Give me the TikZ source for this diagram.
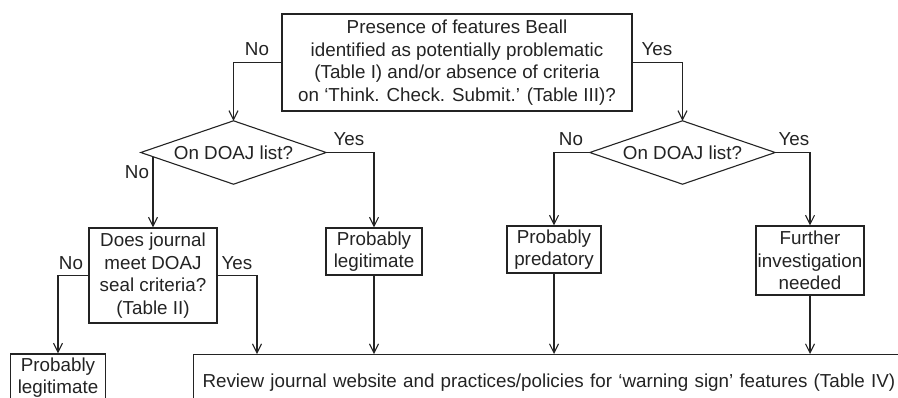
\documentclass[tikz,border=0pt]{standalone}
\usepackage{fontspec}
\setmainfont{Liberation Sans}
\usetikzlibrary{arrows.meta,calc}
\definecolor{ink}{RGB}{35,35,35}
\begin{document}
\begin{tikzpicture}[x=1pt,y=-1pt,
  font=\fontsize{18.8}{22.7}\selectfont,
  box/.style={draw=ink, line width=1.1pt, inner sep=0pt, align=center, text=ink},
  ln/.style={draw=ink, line width=1.1pt},
  arr/.style={draw=ink, line width=1.1pt, -{Straight Barb[length=9pt,width=9pt]}},
  lbl/.style={text=ink, inner sep=0pt}]
\useasboundingbox (0,0) rectangle (898,397);
\clip (0,0) rectangle (898,397);

% top question
\node[box, minimum width=350pt, minimum height=97pt] (T) at (457,62.5)
  {Presence of features Beall\\identified as potentially problematic\\(Table I) and/or absence of criteria\\on ‘Think. Check. Submit.’ (Table III)?};

% diamonds
\node[inner sep=0pt, text=ink, minimum width=185pt, minimum height=63pt] (D1) at (233.5,152.5) {On DOAJ list?};
\draw[ln] (D1.west) -- (D1.north) -- (D1.east) -- (D1.south) -- cycle;
\node[inner sep=0pt, text=ink, minimum width=185pt, minimum height=63pt] (D2) at (682.5,152.5) {On DOAJ list?};
\draw[ln] (D2.west) -- (D2.north) -- (D2.east) -- (D2.south) -- cycle;

% boxes
\node[box, minimum width=96pt, minimum height=47pt] (P1) at (374,251.5) {Probably\\legitimate};
\node[box, minimum width=128pt, minimum height=95pt] (DJ) at (153,275.5) {Does journal\\meet DOAJ\\seal criteria?\\(Table II)};
\node[box, minimum width=95pt, minimum height=47pt] (PL2) at (58,377.5) {Probably\\legitimate};
\node[box, minimum width=94pt, minimum height=47pt] (PP) at (554,249.5) {Probably\\predatory};
\node[box, minimum width=108pt, minimum height=69pt] (FI) at (810,260.5) {Further\\investigation\\needed};
\node[box, anchor=north west, inner xsep=9pt, text width=700pt, align=left, minimum height=56pt] (R) at (193,354)
  {Review journal website and practices/policies for ‘warning sign’ features (Table IV)};

% connectors
\draw[arr] (T.west) -| (D1.north);
\draw[arr] (T.east) -| (D2.north);
\draw[arr] (D1.east) -| (P1.north);
\coordinate (D1no) at ($(D1.west)!0.13!(D1.south)$);
\draw[arr] (DJ.north |- D1no) -- (DJ.north);
\draw[arr] (DJ.west) -| (PL2.north);
\coordinate (Ryes) at (257,354);
\draw[arr] (DJ.east) -| (Ryes);
\draw[arr] (P1.south) -- (P1.south |- R.north);
\draw[arr] (D2.west) -| (PP.north);
\draw[arr] (D2.east) -| (FI.north);
\draw[arr] (PP.south) -- (PP.south |- R.north);
\draw[arr] (FI.south) -- (FI.south |- R.north);

% labels
\node[lbl] (l1) at (257,49) {No};
\node[lbl] (l2) at (657,49) {Yes};
\node[lbl] (l3) at (349,139) {Yes};
\node[lbl] (l4) at (137,172) {No};
\node[lbl] (l5) at (571,139) {No};
\node[lbl] (l6) at (794,139) {Yes};
\node[lbl] (l7) at (71,263) {No};
\node[lbl] (l8) at (237,263) {Yes};
\end{tikzpicture}
\end{document}
